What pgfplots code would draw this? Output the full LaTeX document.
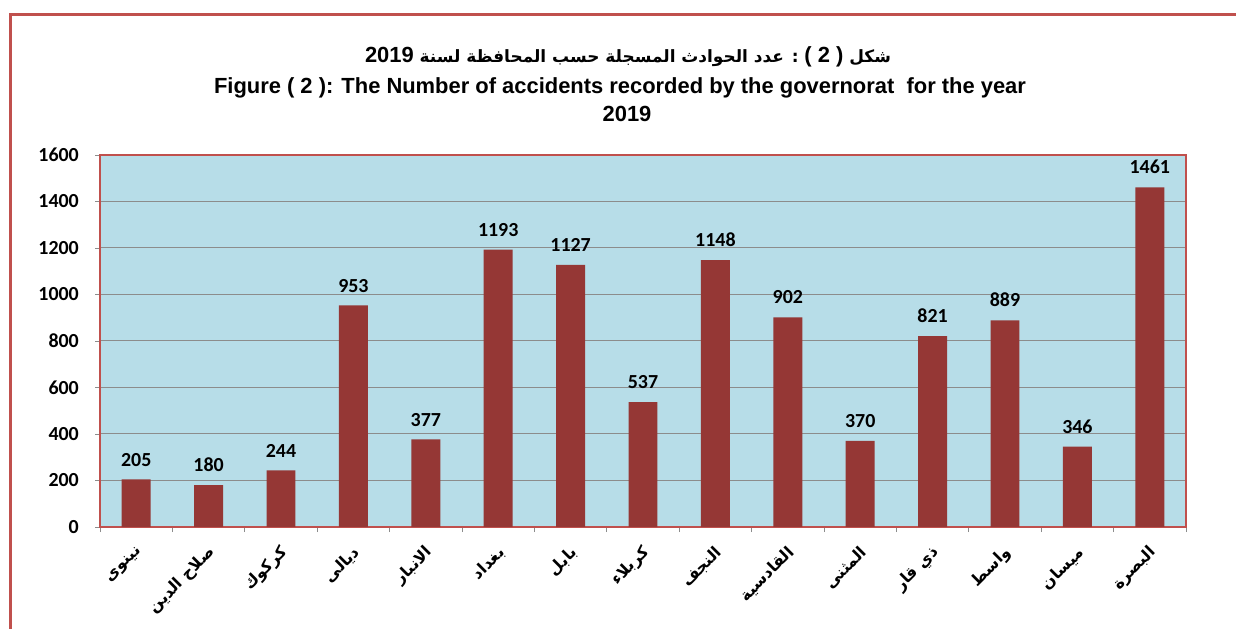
\documentclass[border=0pt]{standalone}
\usepackage{pgfplots}
\pgfplotsset{compat=1.18}
\usepackage{fontspec}
\setmainfont{Liberation Sans}
\newfontfamily\arabicfont[Script=Arabic]{DejaVu Sans}
\newfontfamily\latinfont{Liberation Sans}
\newfontfamily\numfont{Carlito}
\TeXXeTstate=1
\definecolor{barred}{HTML}{953735}
\definecolor{bgblue}{HTML}{B7DDE8}
\definecolor{framered}{HTML}{C0504D}
\definecolor{gridgray}{HTML}{8C8C8C}
\begin{document}
\begin{tikzpicture}
\useasboundingbox (0,0) rectangle (1236bp,629bp);
\draw[framered, line width=3bp] (10bp,-5bp) -- (10bp,614.5bp) -- (1240bp,614.5bp);
\node[font=\arabicfont\bfseries\fontsize{17}{20}\selectfont] at (628bp,572bp) {\beginR شكل \beginL{\latinfont\fontsize{22}{24}\selectfont( 2 )}\endL{} : عدد الحوادث المسجلة حسب المحافظة لسنة \beginL{\latinfont\fontsize{22}{24}\selectfont 2019}\endL\endR};
\node[font=\bfseries\fontsize{22}{26}\selectfont] at (620bp,541bp) {Figure ( 2 ): The Number of accidents recorded by the governorat\ \ for the year};
\node[font=\bfseries\fontsize{22}{26}\selectfont] at (627bp,515bp) {2019};
\begin{axis}[
  at={(100bp,102bp)}, anchor=south west,
  scale only axis, width=1086bp, height=372bp,
  ymin=0, ymax=1600, ytick={0,200,...,1600},
  xmin=-0.5, xmax=14.5,
  xtick={0,...,14},
  xticklabels={
    {\arabicfont\beginR نينوى\endR},
    {\arabicfont\beginR صلاح الدين\endR},
    {\arabicfont\beginR كركوك\endR},
    {\arabicfont\beginR ديالى\endR},
    {\arabicfont\beginR الانبار\endR},
    {\arabicfont\beginR بغداد\endR},
    {\arabicfont\beginR بابل\endR},
    {\arabicfont\beginR كربلاء\endR},
    {\arabicfont\beginR النجف\endR},
    {\arabicfont\beginR القادسية\endR},
    {\arabicfont\beginR المثنى\endR},
    {\arabicfont\beginR ذي قار\endR},
    {\arabicfont\beginR واسط\endR},
    {\arabicfont\beginR ميسان\endR},
    {\arabicfont\beginR البصرة\endR}},
  minor xtick={-0.5,0.5,...,14.5},
  axis background/.style={fill=bgblue},
  axis line style={framered, line width=1.5bp},
  ymajorgrids, grid style={gridgray, line width=1bp},
  tick align=outside, tick pos=left,
  major tick length=5bp, minor tick length=5bp,
  major x tick style={draw=none},
  minor x tick style={gridgray, line width=0.8bp},
  ytick style={gridgray, line width=0.8bp},
  /pgf/number format/1000 sep={},
  /pgf/number format/assume math mode=true,
  yticklabel style={font=\numfont\bfseries\fontsize{20}{22}\selectfont, inner sep=0pt, xshift=-16bp},
  xticklabel style={xshift=4bp, yshift=-18bp, rotate=45, anchor=east, inner sep=0pt, font=\bfseries\fontsize{16}{18}\selectfont},
  ybar, bar width=0.4,
  nodes near coords,
  every node near coord/.append style={font=\numfont\bfseries\fontsize{20}{22}\selectfont, inner sep=0pt, yshift=13bp, black},
]
\addplot[fill=barred, draw=none] coordinates {(0,205) (1,180) (2,244) (3,953) (4,377) (5,1193) (6,1127) (7,537) (8,1148) (9,902) (10,370) (11,821) (12,889) (13,346) (14,1461)};
\end{axis}
\end{tikzpicture}
\end{document}
